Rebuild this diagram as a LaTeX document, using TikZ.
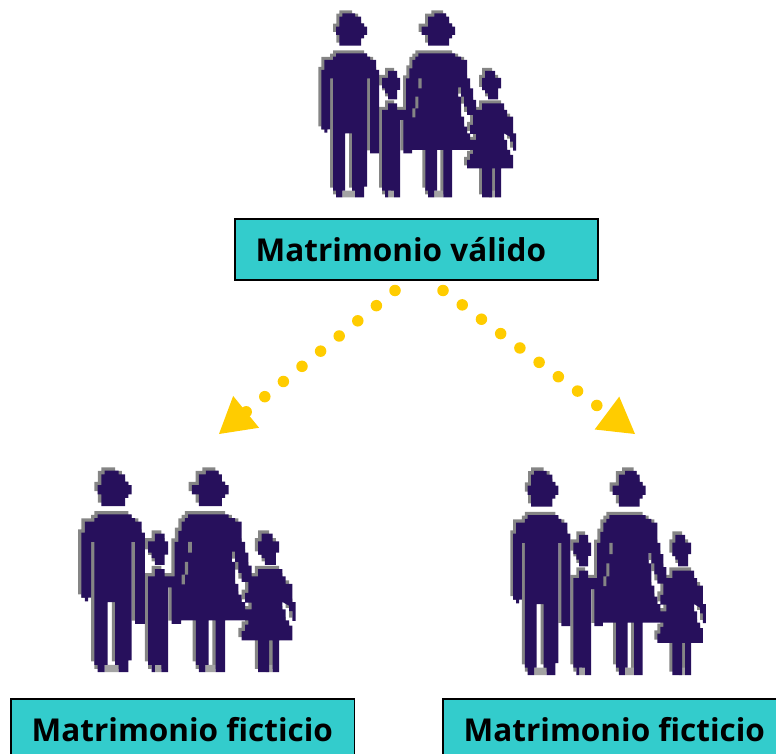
\documentclass[tikz,border=0pt]{standalone}
\usepackage{fontspec}
\setmainfont{Open Sans}[BoldFont={Open Sans Bold}]
\usetikzlibrary{arrows.meta}
\definecolor{famdark}{HTML}{27105C}
\definecolor{famgray}{HTML}{858585}
\definecolor{feetgray}{HTML}{A3A3A3}
\definecolor{boxteal}{HTML}{33CCCC}
\definecolor{arrowgold}{HTML}{FFCC00}
\tikzset{
  x=1pt,y=-1pt,
  titlebox/.style={draw=black,line width=1.8pt,fill=boxteal,rectangle,inner sep=0pt,anchor=north west},
  boxlabel/.style={anchor=base west,inner sep=0pt,font=\fontsize{31.5}{36}\selectfont\bfseries,text=black},
  dotarrow/.style={draw=arrowgold,line width=11.5pt,line cap=round,dash pattern=on 0pt off 24pt,
    -{Triangle[length=35pt,width=41pt,fill=arrowgold,line width=0pt,round=false]}},
}
% Family silhouette, in units of one third of a reference pixel
\newcommand{\FamPath}{
  % man head
  (97,40)--(135,40)--(135,50)--(153,50)--(153,70)--(162,70)--(162,80)--(171,80)--(171,105)--(162,105)--(162,115)--(153,115)--(153,137)--(88,137)--(88,105)--(78,105)--(78,80)--(88,80)--(88,50)--(97,50)--cycle
  % man body
  (78,160)--(171,160)--(171,170)--(180,170)--(180,180)--(198,180)--(198,210)--(207,210)--(207,460)--(180,460)--(180,235)--(171,235)--(171,560)--(162,560)--(162,592)--(135,592)--(135,572)--(126,572)--(126,400)--(105,400)--(105,572)--(97,572)--(97,592)--(78,592)--(78,572)--(69,572)--(69,235)--(60,235)--(60,388)--(52,388)--(52,398)--(43,398)--(43,388)--(34,388)--(34,210)--(43,210)--(43,180)--(69,180)--(69,170)--(78,170)--cycle
  % child head
  (234,213)--(261,213)--(261,234)--(270,234)--(270,270)--(261,270)--(261,298)--(234,298)--(234,280)--(225,280)--(225,265)--(216,265)--(216,234)--(234,234)--cycle
  % child body
  (234,310)--(261,310)--(261,330)--(290,330)--(290,360)--(270,360)--(270,560)--(270,592)--(252,592)--(252,572)--(234,572)--(234,592)--(225,592)--(225,572)--(216,572)--(216,330)--(234,330)--cycle
  % woman head
  (373,40)--(408,40)--(408,50)--(417,50)--(417,70)--(426,70)--(426,80)--(435,80)--(435,105)--(426,105)--(426,115)--(417,115)--(417,137)--(354,137)--(354,105)--(335,105)--(335,80)--(354,80)--(354,50)--(373,50)--cycle
  % woman body, left arm and skirt
  (325,160)--(435,160)--(435,170)--(453,170)--(453,180)--(462,180)--(462,235)--(444,235)--(444,290)--(453,290)--(453,350)--(462,350)--(462,380)--(471,380)--(471,400)--(480,400)--(480,420)--(498,420)--(498,450)--(426,450)--(426,592)--(400,592)--(400,450)--(381,450)--(381,572)--(372,572)--(372,592)--(354,592)--(354,572)--(346,572)--(346,450)--(306,450)--(306,460)--(280,460)--(280,352)--(288,352)--(288,235)--(298,235)--(298,205)--(307,205)--(307,180)--(316,180)--(316,170)--(325,170)--cycle
  % woman right arm
  (435,180)--(471,180)--(471,235)--(480,235)--(480,265)--(489,265)--(489,300)--(498,300)--(498,345)--(471,345)--(471,320)--(462,320)--(462,290)--(453,290)--(453,262)--(444,262)--(444,235)--cycle
  % girl head
  (525,213)--(555,213)--(555,234)--(573,234)--(573,265)--(564,265)--(564,298)--(534,298)--(534,280)--(525,280)--(525,270)--(516,270)--(516,234)--(525,234)--cycle
  % girl body
  (516,310)--(582,310)--(582,330)--(591,330)--(591,350)--(609,350)--(609,400)--(618,400)--(618,452)--(609,452)--(609,425)--(600,425)--(600,410)--(582,400)--(582,420)--(591,420)--(591,450)--(600,450)--(600,465)--(609,465)--(609,505)--(573,505)--(573,592)--(555,592)--(555,505)--(546,505)--(546,592)--(516,592)--(516,505)--(471,505)--(471,480)--(480,480)--(480,462)--(489,462)--(489,435)--(498,435)--(498,402)--(480,402)--(480,375)--(489,375)--(489,345)--(498,345)--(498,330)--(516,330)--cycle
}
\newcommand{\Family}[4]{% x origin, y origin, x factor, y factor
  \begin{scope}[shift={(#1,#2)},xscale=#3/3,yscale=#4/3]
    \fill[famgray,shift={(-9,-9)}] \FamPath;
    \fill[feetgray] (97,572) rectangle (135,592) (234,572) rectangle (252,592) (372,572) rectangle (400,592) (537,572) rectangle (555,592);
    \fill[famdark] \FamPath;
    \fill[famgray] (325,235) rectangle (335,265) (316,290) rectangle (325,325) (307,325) rectangle (316,352);
  \end{scope}}
\begin{document}
\begin{tikzpicture}
  \useasboundingbox (0,0) rectangle (776,754);
  \clip (0,0) rectangle (776,754);
  \Family{310}{0}{1}{1}
  \Family{69}{456}{1.10}{1.095}
  \Family{502}{456}{0.99}{1.11}
  % boxes
  \node[titlebox,minimum width=363.4pt,minimum height=61pt] (valido) at (233.7,217.7) {};
  \node[titlebox,minimum width=343.4pt,minimum height=80pt] (fictA) at (10.2,697.7) {};
  \node[titlebox,minimum width=343.4pt,minimum height=80pt] (fictB) at (442.2,697.7) {};
  \node[boxlabel] (tvalido) at (255.5,261) {Matrimonio válido};
  \node[boxlabel] (tfictA) at (31.5,741) {Matrimonio ficticio};
  \node[boxlabel] (tfictB) at (463.5,741) {Matrimonio ficticio};
  % connectors
  \coordinate (startL) at (395,290.5);
  \coordinate (startR) at (443,290.5);
  \coordinate (tipL) at (219,434);
  \coordinate (tipR) at (635,434);
  \draw[dotarrow] (startL) -- (tipL);
  \draw[dotarrow] (startR) -- (tipR);
\end{tikzpicture}
\end{document}
